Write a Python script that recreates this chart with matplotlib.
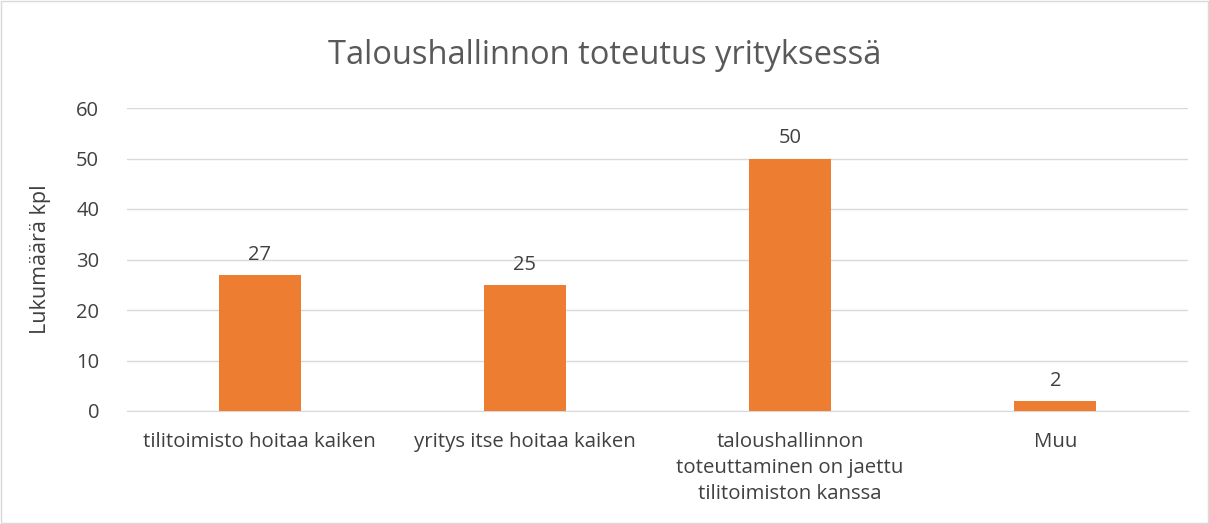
import matplotlib.pyplot as plt

categories = ["tilitoimisto hoitaa kaiken", "yritys itse hoitaa kaiken",
              "taloushallinnon\ntoteuttaminen on jaettu\ntilitoimiston kanssa", "Muu"]
values = [27, 25, 50, 2]
yticks = [0, 10, 20, 30, 40, 50, 60]

plt.rcParams['font.family'] = ['Open Sans', 'DejaVu Sans']
text_color = "#595959"

fig = plt.figure(figsize=(12.09, 5.24), dpi=100)
ax = fig.add_axes([127 / 1209, 1 - 411 / 524, (1188 - 127) / 1209, (411 - 108) / 524])

x = range(len(categories))
bars = ax.bar(x, values, width=0.31, color="#ED7D31", zorder=3)
for b, v in zip(bars, values):
    ax.text(b.get_x() + b.get_width() / 2, v + 2.0, str(v), ha="center", va="bottom",
            fontsize=14.5, color="#404040")

ax.set_xlim(-0.5, len(categories) - 0.5)
ax.set_ylim(0, 60)
ax.set_yticks(yticks)
ax.set_xticks(list(x))
ax.set_xticklabels(categories, fontsize=14.7, color="#404040", linespacing=1.42)
ax.tick_params(axis="y", labelsize=14.5, labelcolor="#404040", length=0, pad=20)
ax.tick_params(axis="x", length=0, pad=15)
ax.yaxis.grid(True, color="#D9D9D9", linewidth=1, zorder=0)
for s in ["top", "right", "left"]:
    ax.spines[s].set_visible(False)
ax.spines["bottom"].set_color("#D9D9D9")

ax.set_ylabel("Lukumäärä kpl", fontsize=15.5, color="#404040", labelpad=18)
fig.text(0.5, 1 - 56 / 524, "Taloushallinnon toteutus yrityksessä", ha="center", va="center",
         fontsize=23.5, color=text_color)

fig.patches.append(plt.Rectangle((0.001, 0.001), 0.998, 0.998, transform=fig.transFigure,
                                 fill=False, edgecolor="#D9D9D9", linewidth=1))

fig.savefig("out.png", dpi=100)
